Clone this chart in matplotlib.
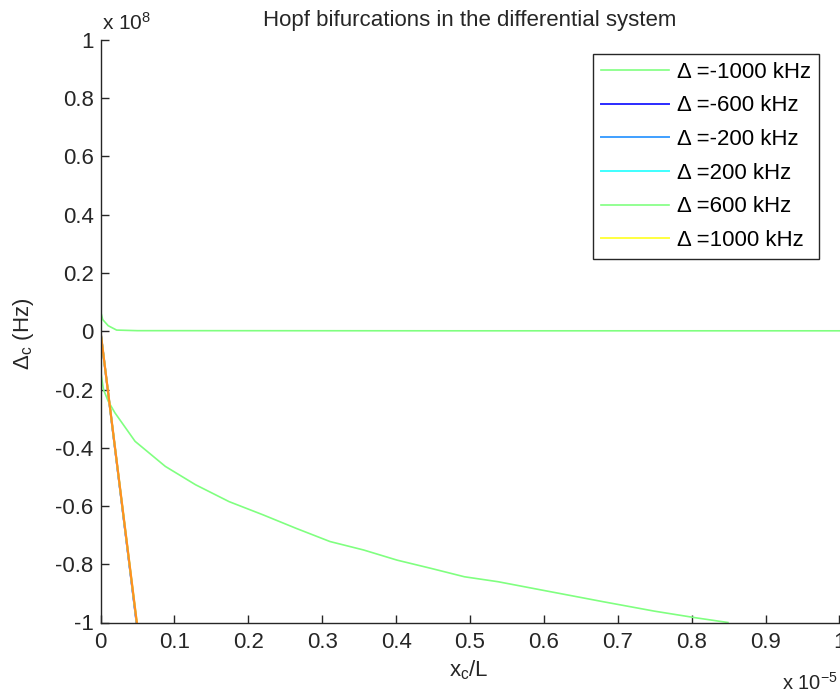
import matplotlib as mpl

mpl.use("Agg")
import matplotlib.pyplot as plt
import numpy as np

plt.rcParams["font.family"] = ["Liberation Sans", "DejaVu Sans"]
plt.rcParams["mathtext.default"] = "regular"

X_SCALE = 1e-5
Y_SCALE = 1e8
FS = 16
TXT = "#262626"

# x_c/L in units of 1e-5, Delta_c in units of 1e8 Hz
# curve that decays to ~0
XC_UPPER = [0.0, 0.003, 0.0104, 0.0218, 0.05, 0.1, 0.5, 1.0]
DC_UPPER = [0.07, 0.04, 0.019, 0.004, 0.002, 0.002, 0.0015, 0.0015]

# slowly falling curve
XC_LOWER = [0.0, 0.001, 0.004, 0.0104, 0.0195, 0.0468, 0.0877, 0.1286, 0.174,
            0.2196, 0.265, 0.3105, 0.356, 0.4015, 0.447, 0.4925, 0.538, 0.6,
            0.681, 0.7495, 0.806, 0.849]
DC_LOWER = [-0.10, -0.15, -0.20, -0.24, -0.28, -0.378, -0.464, -0.527, -0.585,
            -0.630, -0.677, -0.722, -0.751, -0.786, -0.814, -0.843, -0.860, -0.89,
            -0.929, -0.961, -0.984, -1.0]

# steep lines (nearly coincident)
XC_STEEP_END = [0.0487, 0.0489, 0.0490, 0.0492, 0.0491]
DC_STEEP = [0.0, -1.0]

LABELS = ["Δ =-1000 kHz", "Δ =-600 kHz", "Δ =-200 kHz", "Δ =200 kHz",
          "Δ =600 kHz", "Δ =1000 kHz"]
COLORS = ["#80ff80", "#2b2bff", "#3f9fff", "#3fffff", "#80ff80", "#ffff3f"]
ORANGE = "#ff9020"

fig = plt.figure(figsize=(8.4, 6.96), dpi=100)
ax = fig.add_axes([100.5 / 840, (696 - 622.5) / 696, 739 / 840, (622.5 - 40) / 696])

xs_upper = np.array(XC_UPPER) * X_SCALE
ys_upper = np.array(DC_UPPER) * Y_SCALE
xs_lower = np.array(XC_LOWER) * X_SCALE
ys_lower = np.array(DC_LOWER) * Y_SCALE
ys_steep = np.array(DC_STEEP) * Y_SCALE

# plot order follows the legend; the 7th (orange) line is not in the legend
ax.plot(xs_upper, ys_upper, color=COLORS[0], lw=1.2, label=LABELS[0])
for i in range(1, 4):
    ax.plot(np.array([0.0, XC_STEEP_END[i - 1]]) * X_SCALE, ys_steep,
            color=COLORS[i], lw=1.4, label=LABELS[i])
ax.plot(xs_lower, ys_lower, color=COLORS[4], lw=1.2, label=LABELS[4])
ax.plot(np.array([0.0, XC_STEEP_END[3]]) * X_SCALE, ys_steep,
        color=COLORS[5], lw=1.4, label=LABELS[5])
ax.plot(np.array([0.0, XC_STEEP_END[4]]) * X_SCALE, ys_steep,
        color=ORANGE, lw=1.6, label="_nolegend_")

ax.set_xlim(0, 1 * X_SCALE)
ax.set_ylim(-1 * Y_SCALE, 1 * Y_SCALE)
ax.set_xticks(np.arange(0, 11) * 0.1 * X_SCALE)
ax.set_yticks(np.arange(-5, 6) * 0.2 * Y_SCALE)
ax.xaxis.set_major_formatter(mpl.ticker.FuncFormatter(lambda v, p: "%g" % round(v / X_SCALE, 2)))
ax.yaxis.set_major_formatter(mpl.ticker.FuncFormatter(lambda v, p: "%g" % round(v / Y_SCALE, 2)))

for side in ["top", "right"]:
    ax.spines[side].set_visible(False)
for side in ["left", "bottom"]:
    ax.spines[side].set_color(TXT)
    ax.spines[side].set_linewidth(1.0)
ax.tick_params(direction="in", length=6, width=1.0, color=TXT,
               labelsize=FS, labelcolor=TXT)
ax.tick_params(axis="x", pad=7)
ax.tick_params(axis="y", pad=5)

fig.text(470 / 840, 1 - 26 / 696, "Hopf bifurcations in the differential system",
         fontsize=FS, color=TXT, ha="center", va="baseline")
ax.set_xlabel("$x_c$/L", fontsize=FS, color=TXT)
ax.xaxis.set_label_coords(0.498, -0.062)
ax.set_ylabel("$\\Delta_c$ (Hz)", fontsize=FS, color=TXT)
ax.yaxis.set_label_coords(-0.087, 0.495)

fig.text(102 / 840, 1 - 30 / 696, "x 10$^8$", fontsize=15, color=TXT,
         ha="left", va="baseline")
fig.text(838 / 840, 1 - 690 / 696, "x 10$^{-5}$", fontsize=14.5, color=TXT,
         ha="right", va="baseline")

leg = ax.legend(loc="upper right", bbox_to_anchor=(0.972, 0.976), borderaxespad=0,
                fontsize=FS, frameon=True, fancybox=False, handlelength=3.06,
                handletextpad=0.36, labelspacing=0.57, borderpad=0.35)
leg.get_frame().set_edgecolor(TXT)
leg.get_frame().set_linewidth(1.0)
leg.get_frame().set_alpha(1.0)

fig.savefig("out.png", dpi=100)
